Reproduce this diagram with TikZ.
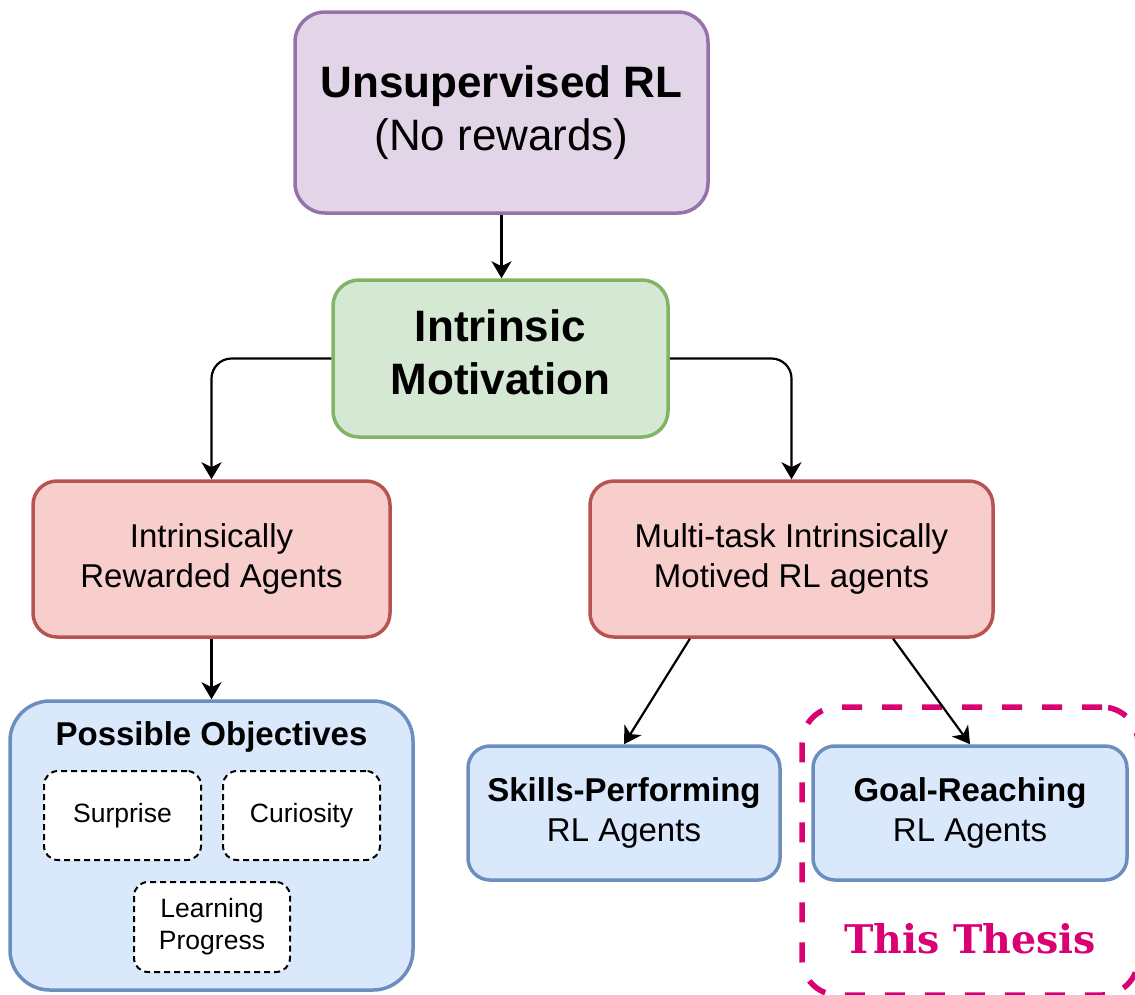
\documentclass[tikz,border=0pt]{standalone}
\usepackage{fontspec}
\setmainfont{Liberation Sans}
\newfontfamily\thesisfont{DejaVu Serif}
\usetikzlibrary{arrows.meta,calc}

\definecolor{purpleFill}{HTML}{E1D5E7}
\definecolor{purpleLine}{HTML}{9673A6}
\definecolor{greenFill}{HTML}{D5E8D4}
\definecolor{greenLine}{HTML}{82B366}
\definecolor{redFill}{HTML}{F8CECC}
\definecolor{redLine}{HTML}{B85450}
\definecolor{blueFill}{HTML}{DAE8FC}
\definecolor{blueLine}{HTML}{6C8EBF}
\definecolor{thesisPink}{HTML}{D80073}

\tikzset{
  box/.style={draw, line width=3.5pt, rectangle, align=center, inner sep=0pt},
  bigfont/.style={font=\fontsize{44}{53}\selectfont},
  midfont/.style={font=\fontsize{33}{40}\selectfont},
  smallfont/.style={font=\fontsize{26.5}{32}\selectfont},
  purplebox/.style={box, fill=purpleFill, draw=purpleLine, rounded corners=30pt, bigfont},
  greenbox/.style={box, fill=greenFill, draw=greenLine, rounded corners=26pt, bigfont},
  redbox/.style={box, fill=redFill, draw=redLine, rounded corners=24pt, midfont},
  bluebox/.style={box, fill=blueFill, draw=blueLine, rounded corners=22pt, midfont},
  container/.style={box, fill=blueFill, draw=blueLine, rounded corners=40pt},
  objbox/.style={draw, fill=white, line width=2pt, dash pattern=on 6pt off 4pt,
                 rounded corners=14pt, align=center, inner sep=0pt, smallfont},
  thesisbox/.style={draw=thesisPink, line width=5.5pt, dash pattern=on 20pt off 20pt,
                    rounded corners=36pt, rectangle, inner sep=0pt},
  arr/.style={draw=black, line width=2.2pt,
              -{Stealth[length=17pt,width=20pt,inset=5pt]}},
}

\begin{document}
\begin{tikzpicture}[x=1pt,y=-1pt]
\useasboundingbox (0,0) rectangle (1135,994);

% frame marking the work of this thesis
\node[thesisbox, minimum width=336pt, minimum height=288pt] (thesis) at (970,851) {};

% top of the hierarchy
\node[purplebox, minimum width=413pt, minimum height=201pt] (unsup) at (501.5,112.5)
  {\textbf{Unsupervised RL}\\(No rewards)};
\node[greenbox, minimum width=335pt, minimum height=157pt, text depth=12pt] (intr) at (500.5,358.5)
  {\textbf{Intrinsic}\\\textbf{Motivation}};

% two families of agents
\node[redbox, minimum width=357pt, minimum height=156pt] (irl) at (211.5,559)
  {Intrinsically\\Rewarded Agents};
\node[redbox, minimum width=403pt, minimum height=156pt] (mt) at (791.5,559)
  {Multi-task Intrinsically\\Motived RL agents};

% objectives of intrinsically rewarded agents
\node[container, minimum width=403pt, minimum height=289pt] (obj) at (211.5,845.5) {};
\node[anchor=base, midfont] (objtitle) at (211.5,745) {\textbf{Possible Objectives}};
\node[objbox, minimum width=157pt, minimum height=89pt] (surprise) at (122.5,815.5) {Surprise};
\node[objbox, minimum width=157pt, minimum height=89pt] (curiosity) at (301.5,815.5) {Curiosity};
\node[objbox, minimum width=156pt, minimum height=90pt] (progress) at (212,927) {Learning\\Progress};

% multi-task agents
\node[bluebox, minimum width=312pt, minimum height=134pt] (skills) at (624,813)
  {\textbf{Skills-Performing}\\RL Agents};
\node[bluebox, minimum width=314pt, minimum height=134pt] (goal) at (970,813)
  {\textbf{Goal-Reaching}\\RL Agents};

\node[anchor=base, text=thesisPink, font=\thesisfont\bfseries\fontsize{39.5}{47}\selectfont]
  (thesislabel) at (970,953) {This Thesis};

% connectors
\draw[arr] (unsup.south) -- (unsup.south |- intr.north);
\draw[arr, rounded corners=20pt] (intr.west) -| (irl.north);
\draw[arr, rounded corners=20pt] (intr.east) -| (mt.north);
\draw[arr] (irl.south) -- (obj.north);
\draw[arr] ($(mt.south west)!0.25!(mt.south east)$) -- (skills.north);
\draw[arr] ($(mt.south west)!0.75!(mt.south east)$) -- (goal.north);
\end{tikzpicture}
\end{document}
